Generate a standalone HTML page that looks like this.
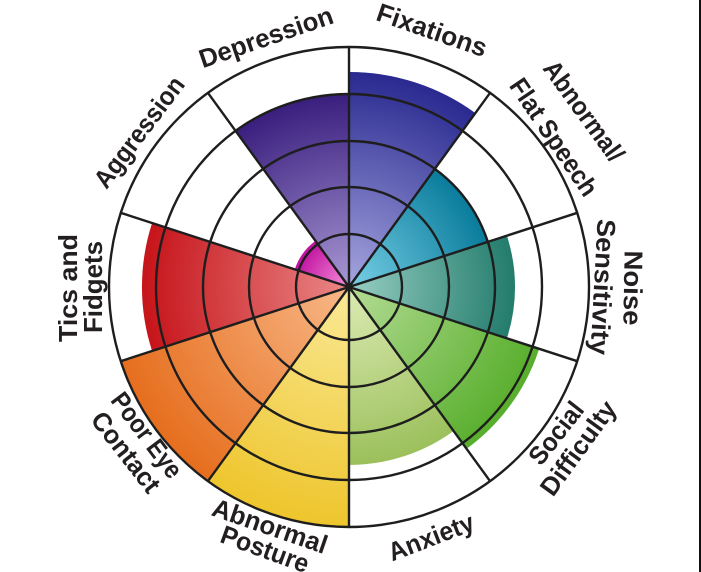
<!DOCTYPE html>
<html><head><meta charset="utf-8"><style>
html,body{margin:0;padding:0;background:#fff;width:701px;height:572px;overflow:hidden}
svg{display:block}
text{font-family:"Liberation Sans",sans-serif;font-weight:bold;font-size:26px;fill:#231f20}
</style></head><body>
<svg width="701" height="572" viewBox="0 0 701 572" xmlns="http://www.w3.org/2000/svg">
<defs>
<radialGradient id="g1" gradientUnits="userSpaceOnUse" cx="349" cy="287" r="220"><stop offset="0" stop-color="#a6a6e0"/><stop offset="1" stop-color="#26268e"/></radialGradient>
<radialGradient id="g2" gradientUnits="userSpaceOnUse" cx="349" cy="287" r="146"><stop offset="0" stop-color="#78d0e6"/><stop offset="1" stop-color="#0a7c9c"/></radialGradient>
<radialGradient id="g3" gradientUnits="userSpaceOnUse" cx="349" cy="287" r="166"><stop offset="0" stop-color="#98cfc4"/><stop offset="1" stop-color="#237c6c"/></radialGradient>
<radialGradient id="g4" gradientUnits="userSpaceOnUse" cx="349" cy="287" r="200"><stop offset="0" stop-color="#b4dc94"/><stop offset="1" stop-color="#58ae2c"/></radialGradient>
<radialGradient id="g5" gradientUnits="userSpaceOnUse" cx="349" cy="287" r="178"><stop offset="0" stop-color="#dcebb4"/><stop offset="1" stop-color="#9cc05c"/></radialGradient>
<radialGradient id="g6" gradientUnits="userSpaceOnUse" cx="349" cy="287" r="240"><stop offset="0" stop-color="#faea98"/><stop offset="1" stop-color="#eec52c"/></radialGradient>
<radialGradient id="g7" gradientUnits="userSpaceOnUse" cx="349" cy="287" r="240"><stop offset="0" stop-color="#f8b888"/><stop offset="1" stop-color="#e66e1e"/></radialGradient>
<radialGradient id="g8" gradientUnits="userSpaceOnUse" cx="349" cy="287" r="207"><stop offset="0" stop-color="#ea8888"/><stop offset="1" stop-color="#c6141a"/></radialGradient>
<radialGradient id="g9" gradientUnits="userSpaceOnUse" cx="349" cy="287" r="57"><stop offset="0" stop-color="#f490dc"/><stop offset="1" stop-color="#c0109e"/></radialGradient>
<radialGradient id="g10" gradientUnits="userSpaceOnUse" cx="349" cy="287" r="193"><stop offset="0" stop-color="#a898d4"/><stop offset="1" stop-color="#3a1e7e"/></radialGradient>
</defs>
<path d="M349 287 L349 72 A215 215 0 0 1 475.4 113.1 Z" fill="url(#g1)"/>
<path d="M349 287 L434.8 168.9 A146 146 0 0 1 487.9 241.9 Z" fill="url(#g2)"/>
<path d="M349 287 L506.9 235.7 A166 166 0 0 1 506.9 338.3 Z" fill="url(#g3)"/>
<path d="M349 287 L539.2 348.8 A200 200 0 0 1 466.6 448.8 Z" fill="url(#g4)"/>
<path d="M349 287 L453.6 431 A178 178 0 0 1 349 465 Z" fill="url(#g5)"/>
<path d="M349 287 L349 527 A240 240 0 0 1 207.9 481.2 Z" fill="url(#g6)"/>
<path d="M349 287 L207.9 481.2 A240 240 0 0 1 120.7 361.2 Z" fill="url(#g7)"/>
<path d="M349 287 L152.1 351 A207 207 0 0 1 152.1 223 Z" fill="url(#g8)"/>
<path d="M349 287 L294.8 269.4 A57 57 0 0 1 315.5 240.9 Z" fill="url(#g9)"/>
<path d="M349 287 L235.6 130.9 A193 193 0 0 1 349 94 Z" fill="url(#g10)"/>
<g fill="none" stroke="#1e1e1e" stroke-width="2.4">
<circle cx="349" cy="287" r="53"/><circle cx="349" cy="287" r="100"/><circle cx="349" cy="287" r="146"/><circle cx="349" cy="287" r="193"/><circle cx="349" cy="287" r="240"/>
<path d="M349 287L349 47M349 287L490.1 92.8M349 287L577.3 212.8M349 287L577.3 361.2M349 287L490.1 481.2M349 287L349 527M349 287L207.9 481.2M349 287L120.7 361.2M349 287L120.7 212.8M349 287L207.9 92.8"/>
</g>
<circle cx="349" cy="287" r="3" fill="#1e1e1e"/>
<rect x="699" y="0" width="2" height="572" fill="#111"/>
<g text-anchor="middle" dominant-baseline="central">
<text transform="translate(432,30) rotate(19)" textLength="115" lengthAdjust="spacingAndGlyphs">Fixations</text>
<text transform="translate(266,37) rotate(-19)" textLength="140" lengthAdjust="spacingAndGlyphs">Depression</text>
<text transform="translate(139,132) rotate(-53)" textLength="132" lengthAdjust="spacingAndGlyphs">Aggression</text>
<text transform="translate(584,111) rotate(54)" textLength="118" lengthAdjust="spacingAndGlyphs">Abnormal/</text>
<text transform="translate(554,137) rotate(56)" textLength="136" lengthAdjust="spacingAndGlyphs">Flat Speech</text>
<text transform="translate(633,288) rotate(91)" textLength="75" lengthAdjust="spacingAndGlyphs">Noise</text>
<text transform="translate(603,287) rotate(93)" textLength="136" lengthAdjust="spacingAndGlyphs">Sensitivity</text>
<text transform="translate(556,433) rotate(-52)" textLength="72" lengthAdjust="spacingAndGlyphs">Social</text>
<text transform="translate(578,448) rotate(-54)" textLength="110" lengthAdjust="spacingAndGlyphs">Difficulty</text>
<text transform="translate(431,537) rotate(-21)" textLength="90" lengthAdjust="spacingAndGlyphs">Anxiety</text>
<text transform="translate(270,526) rotate(19)" textLength="120" lengthAdjust="spacingAndGlyphs">Abnormal</text>
<text transform="translate(265,549) rotate(20)" textLength="92" lengthAdjust="spacingAndGlyphs">Posture</text>
<text transform="translate(147,435) rotate(53)" textLength="100" lengthAdjust="spacingAndGlyphs">Poor Eye</text>
<text transform="translate(126,452) rotate(52)" textLength="95" lengthAdjust="spacingAndGlyphs">Contact</text>
<text transform="translate(68,288) rotate(-90)" textLength="108" lengthAdjust="spacingAndGlyphs">Tics and</text>
<text transform="translate(93,287) rotate(-90)" textLength="92" lengthAdjust="spacingAndGlyphs">Fidgets</text>
</g>
</svg>
</body></html>
